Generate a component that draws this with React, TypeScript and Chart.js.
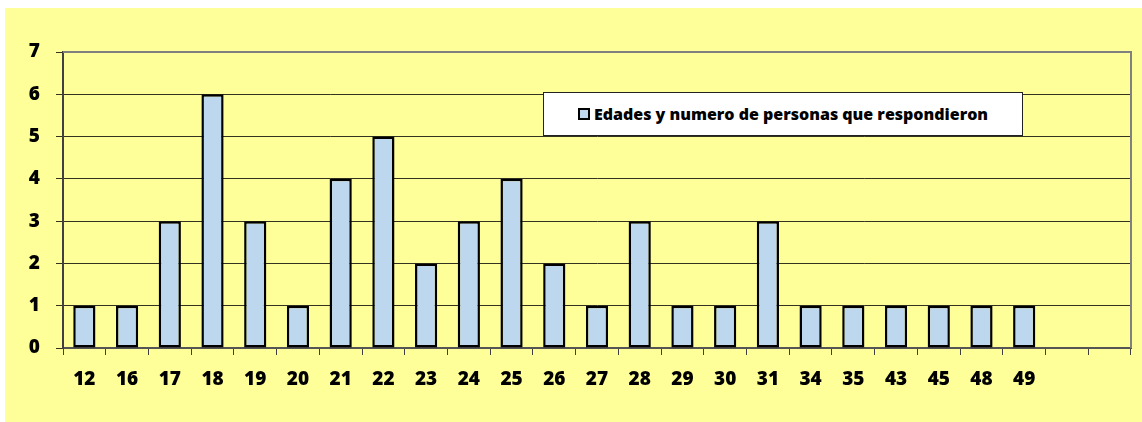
import React, { useEffect, useRef } from "react";
import { Chart, registerables } from "chart.js";

Chart.register(...registerables);

const categories = ["12","16","17","18","19","20","21","22","23","24","25","26","27","28","29","30","31","34","35","43","45","48","49","",""];
const personas = [1,1,3,6,3,1,4,5,2,3,4,2,1,3,1,1,3,1,1,1,1,1,1,null,null];
const seriesLabel = "Edades y numero de personas que respondieron";
const yTicks = [0,1,2,3,4,5,6,7];

const FONT = "'Open Sans', 'Noto Sans', sans-serif";
const BAR_FILL = "#BDD7EE";
const BG = "#FFFF99";

const bgPlugin = {
  id: "bgPlugin",
  beforeDraw(chart: any) {
    const ctx = chart.ctx;
    ctx.save();
    ctx.fillStyle = "#ffffff";
    ctx.fillRect(0, 0, chart.width, chart.height);
    ctx.fillStyle = BG;
    ctx.fillRect(5, 8, chart.width - 5, chart.height - 8);
    ctx.restore();
  },
  afterDatasetsDraw(chart: any) {
    const { ctx, chartArea } = chart;
    ctx.save();
    ctx.strokeStyle = "#808080";
    ctx.lineWidth = 2;
    ctx.beginPath();
    ctx.moveTo(chartArea.left, chartArea.top);
    ctx.lineTo(chartArea.right, chartArea.top);
    ctx.lineTo(chartArea.right, chartArea.bottom);
    ctx.stroke();
    ctx.restore();
  },
};

export default function App() {
  const ref = useRef<HTMLCanvasElement | null>(null);
  useEffect(() => {
    if (!ref.current) return;
    const chart = new Chart(ref.current, {
      type: "bar",
      data: {
        labels: categories,
        datasets: [
          {
            label: seriesLabel,
            data: personas as any,
            backgroundColor: BAR_FILL,
            borderColor: "#000000",
            borderWidth: 2.5,
            borderSkipped: false,
            barPercentage: 0.52,
            categoryPercentage: 1,
          },
        ],
      },
      options: {
        animation: false,
        responsive: false,
        maintainAspectRatio: false,
        layout: { padding: { left: 0, top: 52, right: 11, bottom: 0 } },
        plugins: {
          legend: { display: false },
          tooltip: { enabled: false },
        },
        scales: {
          x: {
            offset: true,
            grid: {
              offset: true,
              drawOnChartArea: false,
              drawTicks: true,
              tickLength: 7,
              color: "#404040",
            },
            border: { display: true, color: "#555555", width: 2 },
            ticks: {
              color: "#000000",
              padding: 13,
              maxRotation: 0,
              autoSkip: false,
              font: { family: FONT, size: 19, weight: "800" },
            },
            afterFit(s: any) {
              s.height = 74;
            },
          },
          y: {
            min: 0,
            max: 7,
            afterBuildTicks(s: any) {
              s.ticks = yTicks.map((v) => ({ value: v }));
            },
            grid: {
              color: "rgba(0,0,0,0.8)",
              lineWidth: 1,
              tickLength: 7,
            },
            border: { display: true, color: "#404040", width: 2 },
            ticks: {
              color: "#000000",
              padding: 16,
              font: { family: FONT, size: 19, weight: "800" },
            },
            afterFit(s: any) {
              s.width = 63;
            },
          },
        },
      },
      plugins: [bgPlugin],
    });
    return () => chart.destroy();
  }, []);

  return (
    <div style={{ position: "absolute", left: 0, top: 0, width: 1142, height: 422 }}>
      <canvas ref={ref} width={1142} height={422} style={{ display: "block" }} />
      <div
        style={{
          position: "absolute",
          left: 543,
          top: 92,
          width: 480,
          height: 44,
          boxSizing: "border-box",
          background: "#ffffff",
          border: "1px solid #222",
          display: "flex",
          alignItems: "center",
          justifyContent: "center",
          fontFamily: FONT,
          fontWeight: 800,
          fontSize: 16,
          color: "#000",
        }}
      >
        <span
          style={{
            display: "inline-block",
            width: 12,
            height: 12,
            boxSizing: "border-box",
            background: BAR_FILL,
            border: "2px solid #000",
            marginRight: 4,
          }}
        />
        <span>{seriesLabel}</span>
      </div>
    </div>
  );
}
